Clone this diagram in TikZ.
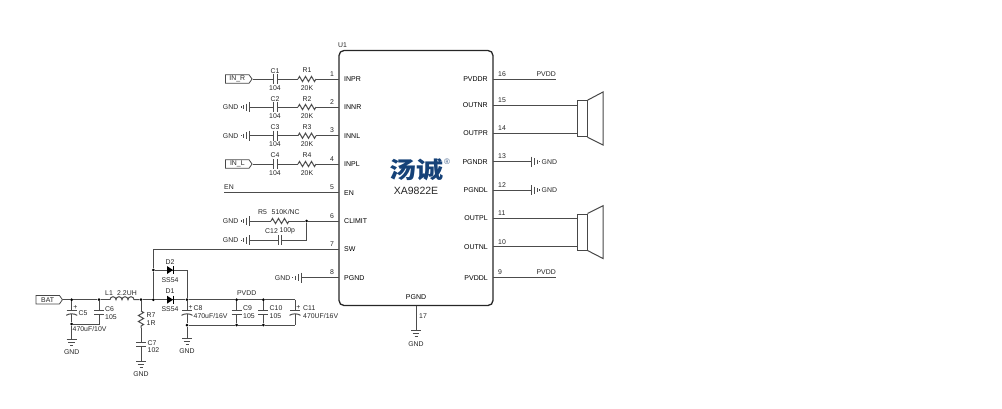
\documentclass[tikz,border=0pt]{standalone}
\usepackage{graphicx}
\usepackage{fontspec}
\setmainfont{Liberation Sans}
\newfontfamily\cjk{Noto Sans CJK SC}
\usetikzlibrary{arrows.meta,calc,decorations.pathmorphing,positioning,shapes.symbols}

\begin{document}
\begin{tikzpicture}[x=1pt,y=-1pt,>=Stealth,
    wire/.style={line width=1pt,draw=black!70},
    res/.style={wire,decorate,decoration={zigzag,amplitude=2.6pt,segment length=6pt}},
    lbl/.style={inner sep=0pt,text=black!85,font=\fontsize{6.9}{7}\selectfont},
    pinname/.style={lbl,font=\fontsize{7}{7}\selectfont,text=black},
    dot/.style={circle,fill=black,inner sep=0pt,minimum size=3pt},
    flag/.style={signal,signal to=east,signal pointer angle=110,draw=black!72,line width=.8pt,minimum width=26.5pt,minimum height=8.5pt,inner sep=0pt,lbl},
    speaker/.style={draw=black!72,line width=1pt,inner sep=0pt,minimum width=10pt,minimum height=36pt},
    pics/caph/.style={code={
        \draw[wire] (-1.7,-5) -- (-1.7,5);
        \draw[wire] (1.7,-5) -- (1.7,5);
        \coordinate (-l) at (-1.7,0);
        \coordinate (-r) at (1.7,0);
    }},
    pics/capv/.style={code={
        \draw[wire] (-5,-1.7) -- (5,-1.7);
        \draw[wire] (-5,1.7) -- (5,1.7);
        \coordinate (-t) at (0,-1.7);
        \coordinate (-b) at (0,1.7);
    }},
    pics/polcap/.style={code={
        \draw[wire] (-5,-1.7) -- (5,-1.7);
        \draw[wire] (-5.5,3) .. controls (-2,1) and (2,1) .. (5.5,3);
        \coordinate (-t) at (0,-1.7);
        \coordinate (-b) at (0,1.5);
    }},
    pics/diode/.style={code={
        \fill[black] (-3,-4) -- (3,0) -- (-3,4) -- cycle;
        \draw[line width=1pt] (3,-4) -- (3,4);
    }},
    pics/gndv/.style={code={
        \draw[wire] (-5,0) -- (5,0);
        \draw[wire] (-3.4,3) -- (3.4,3);
        \draw[wire] (-1.5,6) -- (1.5,6);
    }},
    pics/gndl/.style={code={
        \draw[wire] (0,-5) -- (0,5);
        \draw[wire] (-3,-3.5) -- (-3,3.5);
        \draw[wire] (-6,-2) -- (-6,2);
        \fill[black!72] (-8.6,-.6) rectangle (-7.6,.6);
    }},
    pics/gndr/.style={code={
        \draw[wire] (0,-5) -- (0,5);
        \draw[wire] (3,-3.5) -- (3,3.5);
        \draw[wire] (6,-2) -- (6,2);
        \fill[black!72] (7.6,-.6) rectangle (8.6,.6);
    }}]
    \useasboundingbox (0,0) rectangle (1002,408);

    \node (U1) [draw=black!85,line width=1.3pt,rounded corners=5pt,inner sep=0pt,minimum width=154pt,minimum height=255pt] at (416,178) {};
    \node (U1name) [lbl,anchor=west] at (338,45.5) {U1};
    \node (logo) [inner sep=0pt,text={rgb,255:red,22;green,66;blue,120},font=\fontsize{27}{27}\cjk\bfseries] at (416,169.5) {\scalebox{1}[.85]{汤诚}};
    \node (reg) [lbl,text={rgb,255:red,70;green,100;blue,140},font=\fontsize{8}{8}\selectfont] at (447,162) {®};
    \node (part) [inner sep=0pt,text=black!85,font=\fontsize{10.5}{10.5}\selectfont] at (416,191) {XA9822E};

    \coordinate (P1) at (339,79);
    \coordinate (P2) at (339,107);
    \coordinate (P3) at (339,135.7);
    \coordinate (P4) at (339,164);
    \coordinate (P5) at (339,192.7);
    \coordinate (P6) at (339,221);
    \coordinate (P7) at (339,249.3);
    \coordinate (P8) at (339,277.7);
    \coordinate (P16) at (493,79);
    \coordinate (P15) at (493,105);
    \coordinate (P14) at (493,133.3);
    \coordinate (P13) at (493,161.7);
    \coordinate (P12) at (493,190);
    \coordinate (P11) at (493,218.3);
    \coordinate (P10) at (493,246.7);
    \coordinate (P9) at (493,277.7);
    \coordinate (P17) at (416,305.5);

    \node (nINPR) [pinname,anchor=west] at (344,79) {INPR};
    \node (nINNR) [pinname,anchor=west] at (344,107) {INNR};
    \node (nINNL) [pinname,anchor=west] at (344,135.7) {INNL};
    \node (nINPL) [pinname,anchor=west] at (344,164) {INPL};
    \node (nEN) [pinname,anchor=west] at (344,192.7) {EN};
    \node (nCLIMIT) [pinname,anchor=west] at (344,221) {CLIMIT};
    \node (nSW) [pinname,anchor=west] at (344,249.3) {SW};
    \node (nPGND) [pinname,anchor=west] at (344,277.7) {PGND};
    \node (nPVDDR) [pinname,anchor=east] at (488,79) {PVDDR};
    \node (nOUTNR) [pinname,anchor=east] at (488,105) {OUTNR};
    \node (nOUTPR) [pinname,anchor=east] at (488,133.3) {OUTPR};
    \node (nPGNDR) [pinname,anchor=east] at (488,161.7) {PGNDR};
    \node (nPGNDL) [pinname,anchor=east] at (488,190) {PGNDL};
    \node (nOUTPL) [pinname,anchor=east] at (488,218.3) {OUTPL};
    \node (nOUTNL) [pinname,anchor=east] at (488,246.7) {OUTNL};
    \node (nPVDDL) [pinname,anchor=east] at (488,277.7) {PVDDL};
    \node (nPGNDB) [pinname] at (416,297) {PGND};

    \node (n1) [lbl] at (332,74) {1};
    \node (n2) [lbl] at (332,102) {2};
    \node (n3) [lbl] at (332,130.5) {3};
    \node (n4) [lbl] at (332,159) {4};
    \node (n5) [lbl] at (332,187.5) {5};
    \node (n6) [lbl] at (332,216) {6};
    \node (n7) [lbl] at (332,244.5) {7};
    \node (n8) [lbl] at (332,272.5) {8};
    \node (n16) [lbl,anchor=west] at (498,74) {16};
    \node (n15) [lbl,anchor=west] at (498,100) {15};
    \node (n14) [lbl,anchor=west] at (498,128) {14};
    \node (n13) [lbl,anchor=west] at (498,156.5) {13};
    \node (n12) [lbl,anchor=west] at (498,185) {12};
    \node (n11) [lbl,anchor=west] at (498,213) {11};
    \node (n10) [lbl,anchor=west] at (498,242) {10};
    \node (n9) [lbl,anchor=west] at (498,272.5) {9};
    \node (n17) [lbl,anchor=west] at (419,316.5) {17};

    \node (INR) [flag] at (237.3,79) {IN\_R};
    \pic (C1) at (275.5,79) {caph};
    \coordinate (R1a) at (298,79);
    \coordinate (R1b) at (316,79);
    \draw[wire] (INR.east) -- (C1-l);
    \draw[wire] (C1-r) -- (R1a);
    \draw[res] (R1a) -- (R1b);
    \draw[wire] (R1b) -- (P1);
    \node (C1t) [lbl] at (275,71) {C1};
    \node (C1v) [lbl] at (275,88) {104};
    \node (R1t) [lbl] at (307,70.5) {R1};
    \node (R1v) [lbl] at (307,88) {20K};

    \node (G2) [lbl,anchor=east] at (238.5,107) {GND};
    \pic (Gp2) at (249.5,107) {gndl};
    \coordinate (Gw2) at (249.5,107);
    \pic (C2) at (275.5,107) {caph};
    \coordinate (R2a) at (298,107);
    \coordinate (R2b) at (316,107);
    \draw[wire] (Gw2) -- (C2-l);
    \draw[wire] (C2-r) -- (R2a);
    \draw[res] (R2a) -- (R2b);
    \draw[wire] (R2b) -- (P2);
    \node (C2t) [lbl] at (275,99) {C2};
    \node (C2v) [lbl] at (275,116) {104};
    \node (R2t) [lbl] at (307,99) {R2};
    \node (R2v) [lbl] at (307,116) {20K};

    \node (G3) [lbl,anchor=east] at (238.5,135.7) {GND};
    \pic (Gp3) at (249.5,135.7) {gndl};
    \coordinate (Gw3) at (249.5,135.7);
    \pic (C3) at (275.5,135.7) {caph};
    \coordinate (R3a) at (298,135.7);
    \coordinate (R3b) at (316,135.7);
    \draw[wire] (Gw3) -- (C3-l);
    \draw[wire] (C3-r) -- (R3a);
    \draw[res] (R3a) -- (R3b);
    \draw[wire] (R3b) -- (P3);
    \node (C3t) [lbl] at (275,127.5) {C3};
    \node (C3v) [lbl] at (275,144.5) {104};
    \node (R3t) [lbl] at (307,127.5) {R3};
    \node (R3v) [lbl] at (307,144.5) {20K};

    \node (INL) [flag] at (237.3,164) {IN\_L};
    \pic (C4) at (275.5,164) {caph};
    \coordinate (R4a) at (298,164);
    \coordinate (R4b) at (316,164);
    \draw[wire] (INL.east) -- (C4-l);
    \draw[wire] (C4-r) -- (R4a);
    \draw[res] (R4a) -- (R4b);
    \draw[wire] (R4b) -- (P4);
    \node (C4t) [lbl] at (275,155.5) {C4};
    \node (C4v) [lbl] at (275,173) {104};
    \node (R4t) [lbl] at (307,155.5) {R4};
    \node (R4v) [lbl] at (307,173) {20K};

    \node (ENt) [lbl,anchor=west] at (224,187.5) {EN};
    \coordinate (ENa) at (224,192.7);
    \draw[wire] (ENa) -- (P5);

    \node (G6) [lbl,anchor=east] at (238.5,221) {GND};
    \pic (Gp6) at (249.5,221) {gndl};
    \coordinate (Gw6) at (249.5,221);
    \coordinate (R5a) at (271,221);
    \coordinate (R5b) at (289,221);
    \node (J6) [dot] at (306.7,221) {};
    \draw[wire] (Gw6) -- (R5a);
    \draw[res] (R5a) -- (R5b);
    \draw[wire] (R5b) -- (J6) -- (P6);
    \node (R5t) [lbl,anchor=west] at (258,212.5) {R5};
    \node (R5v) [lbl,anchor=west] at (271.5,212.5) {510K/NC};

    \node (G12) [lbl,anchor=east] at (238.5,240.3) {GND};
    \pic (Gp12) at (249.5,240.3) {gndl};
    \coordinate (Gw12) at (249.5,240.3);
    \pic (C12) at (280,240.3) {caph};
    \draw[wire] (Gw12) -- (C12-l);
    \draw[wire] (C12-r) -| (J6);
    \node (C12t) [lbl,anchor=west] at (265,231) {C12};
    \node (C12v) [lbl,anchor=west] at (279.5,231) {100p};

    \node (G8) [lbl,anchor=east] at (290.5,277.7) {GND};
    \pic (Gp8) at (301,277.7) {gndl};
    \coordinate (Gw8) at (301,277.7);
    \draw[wire] (Gw8) -- (P8);

    \node (BAT) [flag] at (47.7,299.7) {BAT};
    \node (J1) [dot] at (71.7,299.7) {};
    \node (J2) [dot] at (99,299.7) {};
    \coordinate (L1a) at (110,299.7);
    \node (J3) [dot] at (141,299.7) {};
    \node (J4) [dot] at (153.3,299.7) {};
    \node (J5) [dot] at (187,299.7) {};
    \node (J7) [dot] at (236.7,299.7) {};
    \node (J8) [dot] at (263.3,299.7) {};
    \coordinate (Rtop) at (295,299.7);
    \coordinate (Rbot) at (295,325);
    \node (J9) [dot] at (153.3,270) {};
    \coordinate (D2c) at (187,270);
    \coordinate (SWc) at (153.3,249.3);
    \node (J10) [dot] at (187,325) {};
    \node (J11) [dot] at (236.7,325) {};
    \node (J12) [dot] at (263.3,325) {};
    \node (J13) [dot] at (71.7,324) {};
    \coordinate (C6c) at (99,324);

    \draw[wire] (BAT.east) -- (J1) -- (J2) -- (L1a);
    \draw[wire] (L1a) arc[start angle=180,end angle=360,radius=3] arc[start angle=180,end angle=360,radius=3] arc[start angle=180,end angle=360,radius=3] arc[start angle=180,end angle=360,radius=3] -- (J3);
    \draw[wire] (J3) -- (J4) -- (J5) -- (J7) -- (J8) -- (Rtop);
    \draw[wire] (Rbot) -- (J12) -- (J11) -- (J10);
    \draw[wire] (P7) -- (SWc) -- (J9) -- (J4);
    \draw[wire] (J9) -- (D2c) -- (J5);
    \pic (D1) at (170,299.7) {diode};
    \pic (D2) at (170,270) {diode};
    \node (D1t) [lbl] at (170,290.7) {D1};
    \node (D1v) [lbl] at (170,309.3) {SS54};
    \node (D2t) [lbl] at (170,261.7) {D2};
    \node (D2v) [lbl] at (170,280.5) {SS54};
    \node (L1t) [lbl,anchor=west] at (105,293) {L1};
    \node (L1v) [lbl,anchor=west] at (117,293) {2.2UH};

    \pic (C5) at (71.7,312.3) {polcap};
    \coordinate (G5) at (71.7,339);
    \draw[wire] (J1) -- (C5-t);
    \draw[wire] (C5-b) -- (J13) -- (G5);
    \pic (Gp5) at (71.7,339) {gndv};
    \node (G5t) [lbl] at (71.7,352) {GND};
    \node (C5p) [lbl] at (75.5,307.5) {+};
    \node (C5t) [lbl,anchor=west] at (78.5,313) {C5};
    \node (C5v) [lbl,anchor=west] at (72.5,329.5) {470uF/10V};

    \pic (C6) at (99,312.3) {capv};
    \draw[wire] (J2) -- (C6-t);
    \draw[wire] (C6-b) -- (C6c) -- (J13);
    \node (C6t) [lbl,anchor=west] at (105,309.5) {C6};
    \node (C6v) [lbl,anchor=west] at (105,317) {105};

    \coordinate (R7a) at (141,311);
    \coordinate (R7b) at (141,328);
    \pic (C7) at (141,344.5) {capv};
    \coordinate (G7) at (141,361);
    \draw[wire] (J3) -- (R7a);
    \draw[res] (R7a) -- (R7b);
    \draw[wire] (R7b) -- (C7-t);
    \draw[wire] (C7-b) -- (G7);
    \pic (Gp7) at (141,361) {gndv};
    \node (G7t) [lbl] at (141,374.5) {GND};
    \node (R7t) [lbl,anchor=west] at (146.5,315.5) {R7};
    \node (R7v) [lbl,anchor=west] at (146.5,323) {1R};
    \node (C7t) [lbl,anchor=west] at (147.5,343) {C7};
    \node (C7v) [lbl,anchor=west] at (147.5,350.5) {102};

    \pic (C8) at (187,312.3) {polcap};
    \coordinate (G10) at (187,338.5);
    \draw[wire] (J5) -- (C8-t);
    \draw[wire] (C8-b) -- (J10) -- (G10);
    \pic (Gp10) at (187,338.5) {gndv};
    \node (G10t) [lbl] at (187,351.5) {GND};
    \node (C8p) [lbl] at (190.7,307.5) {+};
    \node (C8t) [lbl,anchor=west] at (193.5,308.5) {C8};
    \node (C8v) [lbl,anchor=west] at (193.5,316) {470uF/16V};

    \pic (C9) at (236.7,312.3) {capv};
    \draw[wire] (J7) -- (C9-t);
    \draw[wire] (C9-b) -- (J11);
    \node (C9t) [lbl,anchor=west] at (243,308.5) {C9};
    \node (C9v) [lbl,anchor=west] at (243,316) {105};

    \pic (C10) at (263.3,312.3) {capv};
    \draw[wire] (J8) -- (C10-t);
    \draw[wire] (C10-b) -- (J12);
    \node (C10t) [lbl,anchor=west] at (269.5,308.5) {C10};
    \node (C10v) [lbl,anchor=west] at (269.5,316) {105};

    \pic (C11) at (295,312.3) {polcap};
    \draw[wire] (Rtop) -- (C11-t);
    \draw[wire] (C11-b) -- (Rbot);
    \node (C11p) [lbl] at (298.5,307.5) {+};
    \node (C11t) [lbl,anchor=west] at (303,308.5) {C11};
    \node (C11v) [lbl,anchor=west] at (303,316) {470UF/16V};
    \node (PVDDb) [lbl] at (246.7,293) {PVDD};

    \coordinate (R16) at (556,79);
    \draw[wire] (P16) -- (R16);
    \node (PVDDt) [lbl,anchor=east] at (556,74.5) {PVDD};
    \coordinate (R9) at (556,277.7);
    \draw[wire] (P9) -- (R9);
    \node (PVDDu) [lbl,anchor=east] at (556,272.5) {PVDD};

    \node (SPKR) [speaker] at (582,118.7) {};
    \draw[wire] (P15) -- (P15 -| SPKR.west);
    \draw[wire] (P14) -- (P14 -| SPKR.west);
    \draw[draw=black!72,line width=1pt] (SPKR.north east) -- (603,92) -- (603,145) -- (SPKR.south east);

    \node (SPKL) [speaker] at (582,232) {};
    \draw[wire] (P11) -- (P11 -| SPKL.west);
    \draw[wire] (P10) -- (P10 -| SPKL.west);
    \draw[draw=black!72,line width=1pt] (SPKL.north east) -- (603,205.7) -- (603,258.5) -- (SPKL.south east);

    \coordinate (Gw13) at (531,161.7);
    \draw[wire] (P13) -- (Gw13);
    \pic (Gp13) at (531,161.7) {gndr};
    \node (G13) [lbl,anchor=west] at (541.5,161.7) {GND};
    \coordinate (Gw14) at (531,190);
    \draw[wire] (P12) -- (Gw14);
    \pic (Gp14) at (531,190) {gndr};
    \node (G14) [lbl,anchor=west] at (541.5,190) {GND};

    \coordinate (G17) at (416,330.7);
    \draw[wire] (P17) -- (G17);
    \pic (Gp17) at (416,330.7) {gndv};
    \node (G17t) [lbl] at (416,344) {GND};
\end{tikzpicture}
\end{document}
